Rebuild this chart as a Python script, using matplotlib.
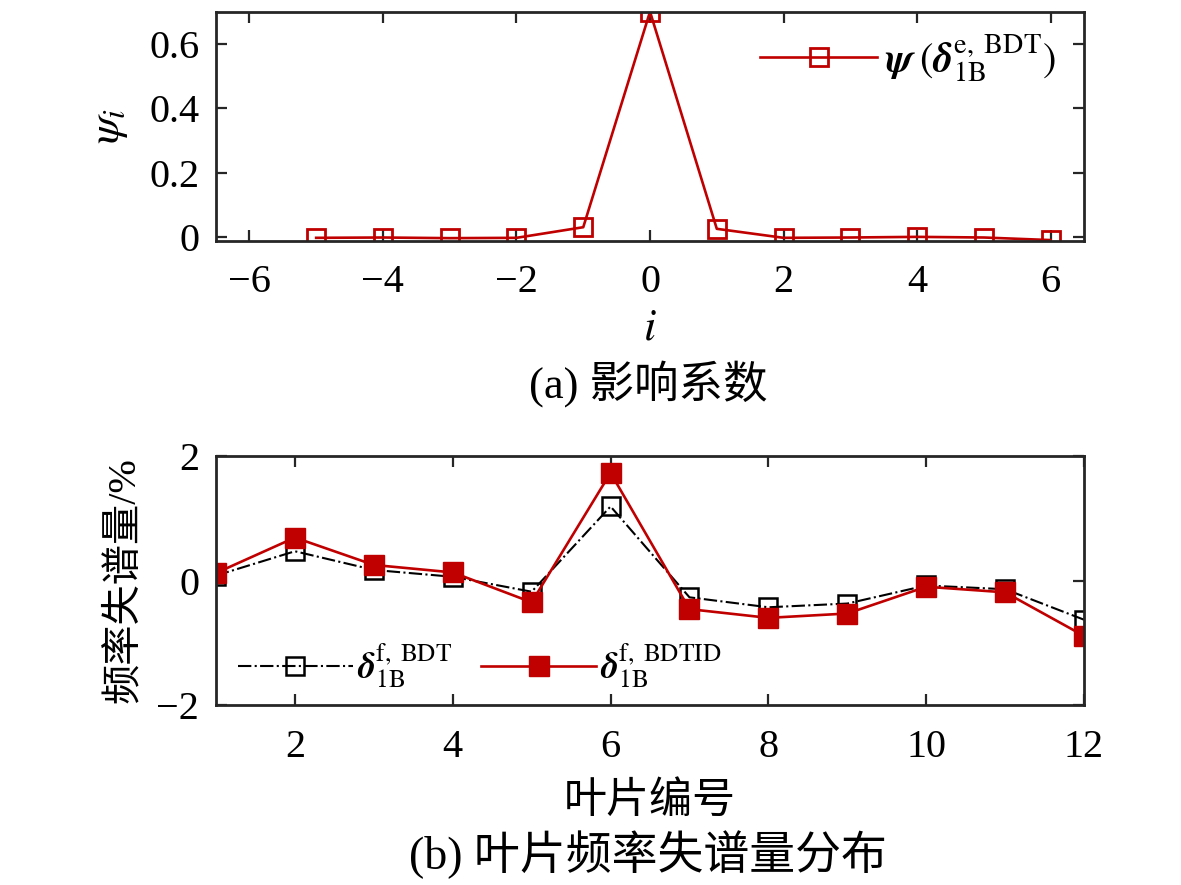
import matplotlib
matplotlib.use('Agg')
import matplotlib.pyplot as plt

plt.rcParams['font.family'] = ['Liberation Serif', 'Noto Sans CJK SC']
plt.rcParams['mathtext.fontset'] = 'stix'
plt.rcParams['axes.unicode_minus'] = True

# (a) 影响系数
i_idx = [-5, -4, -3, -2, -1, 0, 1, 2, 3, 4, 5, 6]
psi = [-0.003, -0.002, -0.004, -0.003, 0.03, 0.70, 0.025, -0.003, -0.002, 0.0, -0.002, -0.01]

# (b) 叶片频率失谱量分布
blade = [1, 2, 3, 4, 5, 6, 7, 8, 9, 10, 11, 12]
bdt = [0.08, 0.47, 0.17, 0.06, -0.18, 1.19, -0.27, -0.43, -0.37, -0.08, -0.14, -0.63]
bdtid = [0.12, 0.69, 0.25, 0.13, -0.35, 1.73, -0.46, -0.6, -0.53, -0.1, -0.19, -0.89]

red = '#c00000'
fs = 29

fig = plt.figure(figsize=(11.81, 8.85), dpi=100)
ax1 = fig.add_axes([0.1829, 0.728, 0.735, 0.2588])
ax2 = fig.add_axes([0.1829, 0.2034, 0.735, 0.2813])

for ax in (ax1, ax2):
    for s in ax.spines.values():
        s.set_linewidth(2.0)
        s.set_color('#262626')
    ax.tick_params(direction='in', top=True, right=True, length=8, width=1.6,
                   labelsize=fs, colors='#262626', labelcolor='black')
    ax.tick_params(axis='x', pad=17)
    ax.tick_params(axis='y', pad=12)

# 上图
ax1.plot(i_idx, psi, '-s', color=red, lw=1.9, ms=13, mfc='none', mew=2.0,
         label=r'$\boldsymbol{\psi}\;(\boldsymbol{\delta}_{\mathrm{1B}}^{\mathrm{e,\ BDT}})$')
ax1.set_xlim(-6.5, 6.5)
ax1.set_ylim(-0.012, 0.7)
ax1.set_xticks([-6, -4, -2, 0, 2, 4, 6])
ax1.set_yticks([0, 0.2, 0.4, 0.6])
ax1.set_yticklabels(['0', '0.2', '0.4', '0.6'])
ax1.set_xlabel(r'$i$', fontsize=fs + 3, labelpad=5)
ax1.set_ylabel(r'$\psi_i$', fontsize=fs + 3, labelpad=14)
ax1.legend(loc='upper right', frameon=False, fontsize=fs, handlelength=2.9,
           handletextpad=0.2, borderaxespad=0.3, bbox_to_anchor=(1.0, 1.035))

# 下图
ax2.plot(blade, bdt, '-.s', color='black', lw=1.5, ms=13, mfc='none', mew=1.8,
         label=r'$\boldsymbol{\delta}_{\mathrm{1B}}^{\mathrm{f,\ BDT}}$')
ax2.plot(blade, bdtid, '-s', color=red, lw=1.9, ms=15, mfc=red, mec=red,
         label=r'$\boldsymbol{\delta}_{\mathrm{1B}}^{\mathrm{f,\ BDTID}}$')
ax2.set_xlim(1, 12)
ax2.set_ylim(-2, 2)
ax2.set_xticks([2, 4, 6, 8, 10, 12])
ax2.set_yticks([-2, 0, 2])
ax2.set_xlabel('叶片编号', fontsize=fs + 2, labelpad=12)
ax2.set_ylabel('频率失谱量/%', fontsize=fs, labelpad=10)
ax2.legend(loc='lower left', ncol=2, frameon=False, fontsize=fs - 3, handlelength=3.2,
           handletextpad=0.1, columnspacing=0.8, borderaxespad=0.2,
           bbox_to_anchor=(0.0, -0.03))

fig.text(0.5487, 0.567, '(a) 影响系数', ha='center', va='center', fontsize=fs + 3)
fig.text(0.5487, 0.034, '(b) 叶片频率失谱量分布', ha='center', va='center', fontsize=fs + 4)

fig.savefig('out.png', dpi=100)
